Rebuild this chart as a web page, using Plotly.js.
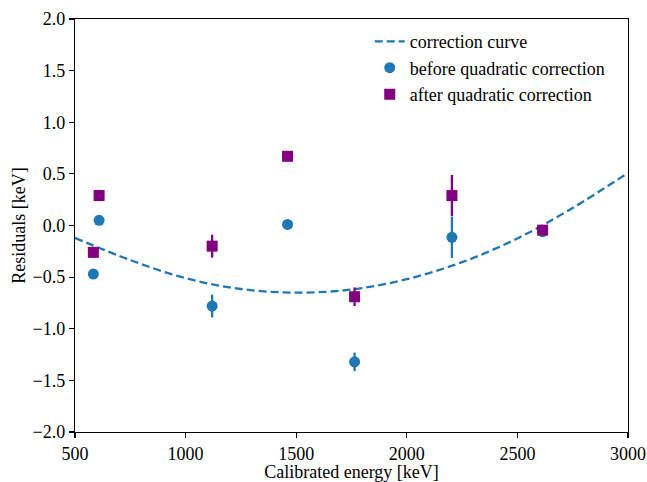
<!DOCTYPE html>
<html>
<head>
<meta charset="utf-8">
<script src="https://cdn.plot.ly/plotly-3.0.1.min.js"></script>
<style>html,body{margin:0;padding:0;background:#fff;}#chart{width:647px;height:482px;}</style>
</head>
<body>
<div id="chart"></div>
<script>
// Correction curve
const curveEnergy = [500, 750, 1000, 1250, 1500, 1750, 2000, 2250, 2500, 2750, 3000];
const curveResid  = [-0.12, -0.335, -0.51, -0.615, -0.65, -0.62, -0.52, -0.355, -0.125, 0.17, 0.51];

// Peak energies [keV]
const peakEnergy = [583, 609, 1120, 1461, 1764, 2204, 2614];
// Residuals before quadratic correction
const beforeResid = [-0.47, 0.05, -0.78, 0.01, -1.32, -0.115, -0.06];
const beforeErr   = [0.03, 0.03, 0.11, 0.03, 0.09, 0.2, 0.03];
// Residuals after quadratic correction
const afterResid = [-0.26, 0.29, -0.2, 0.67, -0.69, 0.29, -0.045];
const afterErr   = [0.03, 0.03, 0.11, 0.03, 0.09, 0.2, 0.03];

const xTicks = [500, 1000, 1500, 2000, 2500, 3000];
const yTicks = [-2.0, -1.5, -1.0, -0.5, 0.0, 0.5, 1.0, 1.5, 2.0];

const blue = '#1f77b4';
const purple = '#800080';

const traces = [
  {
    x: curveEnergy, y: curveResid, type: 'scatter', mode: 'lines',
    name: 'correction curve',
    line: {color: blue, width: 2.3, dash: '8px,4px', shape: 'spline', smoothing: 1}
  },
  {
    x: peakEnergy, y: beforeResid, type: 'scatter', mode: 'markers',
    name: 'before quadratic correction',
    marker: {color: blue, size: 11, symbol: 'circle'},
    error_y: {type: 'data', array: beforeErr, visible: true, color: blue, thickness: 2.3, width: 0}
  },
  {
    x: peakEnergy, y: afterResid, type: 'scatter', mode: 'markers',
    name: 'after quadratic correction',
    marker: {color: purple, size: 11, symbol: 'square'},
    error_y: {type: 'data', array: afterErr, visible: true, color: purple, thickness: 2.3, width: 0}
  }
];

const font = {family: 'Liberation Serif, serif', size: 18, color: '#000'};
const tickFont = {family: 'Liberation Serif', size: 18, color: '#000'};

const layout = {
  width: 647, height: 482,
  margin: {l: 75, r: 19, t: 19, b: 50, pad: 0},
  paper_bgcolor: '#fff', plot_bgcolor: '#fff',
  font: font,
  showlegend: true,
  legend: {
    x: 0.533, y: 0.99, xanchor: 'left', yanchor: 'top',
    bgcolor: 'rgba(255,255,255,0)', borderwidth: 0,
    font: font, tracegroupgap: 0
  },
  xaxis: {
    range: [500, 3000], tickvals: xTicks, ticktext: xTicks.map(String),
    showgrid: false, zeroline: false,
    showline: true, linecolor: '#000', linewidth: 1.2, mirror: true,
    ticks: 'outside', ticklen: 5, tickwidth: 1.2, tickcolor: '#000',
    title: {text: 'Calibrated energy [keV]', font: font, standoff: 4},
    tickfont: tickFont
  },
  yaxis: {
    range: [-2.0, 2.0], tickvals: yTicks, tickformat: '.1f',
    showgrid: false, zeroline: false,
    showline: true, linecolor: '#000', linewidth: 1.2, mirror: true,
    ticks: 'outside', ticklen: 5, tickwidth: 1.2, tickcolor: '#000',
    title: {text: 'Residuals [keV]', font: font, standoff: 2},
    tickfont: tickFont
  }
};

Plotly.newPlot('chart', traces, layout, {displayModeBar: false, staticPlot: true});
</script>
</body>
</html>
